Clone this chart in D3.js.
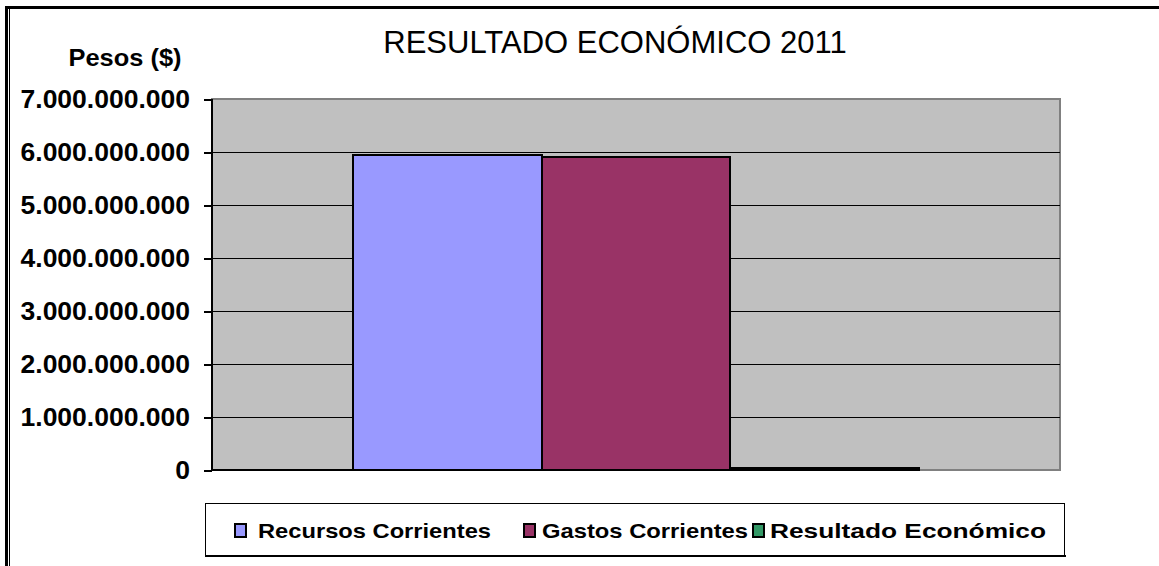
<!DOCTYPE html>
<html>
<head>
<meta charset="utf-8">
<script src="https://cdn.jsdelivr.net/npm/d3@7"></script>
<style>
  body { margin: 0; background: #fff; }
  svg { display: block; font-family: "Liberation Sans", Arial, sans-serif; }
</style>
</head>
<body>
<div id="chart"></div>
<script>
// data
const series = ["Recursos Corrientes", "Gastos Corrientes", "Resultado Económico"];
const values = [5943000000, 5906000000, 37000000];
const colors = ["#9999FF", "#993366", "#339966"];
const yTicks = [0, 1e9, 2e9, 3e9, 4e9, 5e9, 6e9, 7e9];
const title = "RESULTADO ECONÓMICO 2011";
const yTitle = "Pesos ($)";

const width = 1159, height = 566,
  margin = { top: 99, right: 99, bottom: 96, left: 212 };
const innerW = width - margin.left - margin.right,
  innerH = height - margin.top - margin.bottom;

const svg = d3.select("#chart").append("svg")
  .attr("width", width).attr("height", height)
  .attr("shape-rendering", "crispEdges");

// outer frame (top line + double left line)
svg.append("line").attr("x1", 5).attr("x2", width).attr("y1", 7.5).attr("y2", 7.5)
  .attr("stroke", "#000").attr("stroke-width", 3);
svg.append("line").attr("x1", 6.5).attr("x2", 6.5).attr("y1", 6).attr("y2", height)
  .attr("stroke", "#000").attr("stroke-width", 3);
svg.append("line").attr("x1", 9.5).attr("x2", 9.5).attr("y1", 9).attr("y2", height)
  .attr("stroke", "#000").attr("stroke-width", 1);

const x = d3.scaleBand().domain(series).range([0, innerW])
  .paddingInner(0).paddingOuter(0.744);
const y = d3.scaleLinear().domain([0, 7e9]).range([innerH, 0]);

const fmt = v => d3.format(",")(v).replace(/,/g, ".");

const g = svg.append("g").attr("transform", `translate(${margin.left},${margin.top})`);

// plot area
g.append("rect").attr("width", innerW).attr("height", innerH)
  .attr("fill", "#C0C0C0").attr("stroke", "#808080").attr("stroke-width", 2);

// gridlines
g.selectAll("line.grid").data(yTicks.filter(d => d > 0 && d < 7e9)).join("line")
  .attr("class", "grid")
  .attr("x1", 0).attr("x2", innerW)
  .attr("y1", d => Math.round(y(d)) + 0.5).attr("y2", d => Math.round(y(d)) + 0.5)
  .attr("stroke", "#000").attr("stroke-width", 1);

// bars
g.selectAll("rect.bar").data(values).join("rect")
  .attr("class", "bar")
  .attr("x", (d, i) => x(series[i]))
  .attr("y", d => y(d))
  .attr("width", x.bandwidth())
  .attr("height", d => innerH - y(d))
  .attr("fill", (d, i) => colors[i])
  .attr("stroke", "#000").attr("stroke-width", 2);

// x axis line (black up to the end of the last bar)
g.append("line").attr("x1", 0).attr("x2", x(series[2]) + x.bandwidth())
  .attr("y1", innerH).attr("y2", innerH).attr("stroke", "#000").attr("stroke-width", 2);

// y axis
const yAxis = g.append("g").call(d3.axisLeft(y).tickValues(yTicks).tickFormat(fmt)
  .tickSize(8).tickPadding(14));
yAxis.select(".domain").attr("stroke-width", 2).attr("d", `M0,0V${innerH}`);
yAxis.selectAll(".tick line").attr("stroke-width", 2);
yAxis.selectAll("text")
  .attr("font-family", "'Liberation Sans', Arial, sans-serif")
  .attr("font-size", 26.5).attr("font-weight", "bold").attr("fill", "#000");

// titles
svg.append("text").attr("x", 615).attr("y", 53).attr("text-anchor", "middle")
  .attr("font-size", 31).attr("fill", "#000").text(title);
svg.append("text").attr("x", 125).attr("y", 66).attr("text-anchor", "middle")
  .attr("font-size", 24).attr("font-weight", "bold").attr("fill", "#000")
  .attr("textLength", 113).attr("lengthAdjust", "spacingAndGlyphs").text(yTitle);

// legend
const legend = svg.append("g");
legend.append("rect").attr("x", 205.5).attr("y", 503.5).attr("width", 859).attr("height", 52)
  .attr("fill", "#fff").attr("stroke", "#000").attr("stroke-width", 1);
legend.append("line").attr("x1", 205).attr("x2", 1066).attr("y1", 556).attr("y2", 556)
  .attr("stroke", "#000").attr("stroke-width", 2);
const legX = [234, 523, 752];
const legTextX = [24, 19, 18];
const legW = [233, 206, 276];
const items = legend.selectAll("g.item").data(series).join("g")
  .attr("class", "item")
  .attr("transform", (d, i) => `translate(${legX[i]},523)`);
items.append("rect").attr("x", 0.5).attr("y", 0.5).attr("width", 11).attr("height", 13)
  .attr("fill", (d, i) => colors[i]).attr("stroke", "#000").attr("stroke-width", 2);
items.append("text").attr("x", (d, i) => legTextX[i]).attr("y", 14.5)
  .attr("font-size", 21).attr("font-weight", "bold").attr("fill", "#000")
  .attr("textLength", (d, i) => legW[i]).attr("lengthAdjust", "spacingAndGlyphs")
  .text(d => d);
</script>
</body>
</html>
